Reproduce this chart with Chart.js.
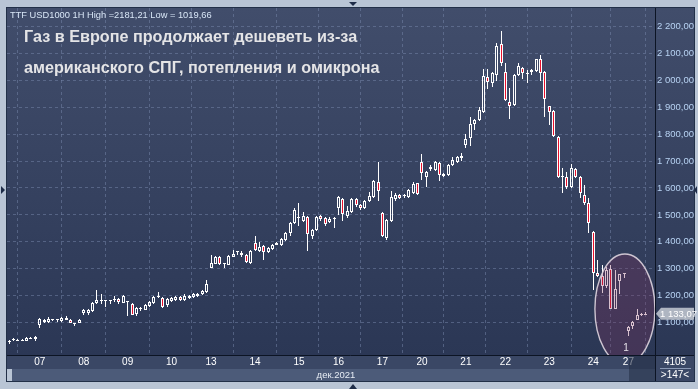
<!DOCTYPE html>
<html>
<head>
<meta charset="utf-8">
<script src="https://cdn.jsdelivr.net/npm/chart.js@4/dist/chart.umd.min.js"></script>
<style>
html,body{margin:0;padding:0;background:#b9c5d5;}
#wrap{position:relative;width:698px;height:389px;overflow:hidden;}
canvas{display:block;}
</style>
</head>
<body>
<div id="wrap"><canvas id="c" width="698" height="389"></canvas></div>
<script>
// ---- data (hourly candles, TTF USD1000, Dec 2021) ----
const openP = [1028,1035,1036,1034,1033,1044,1041,
1093,1111,1102,1112,1109,1105,1119,1111,1099,1100,
1135,1136,1142,1172,1183,1183,1182,1184,1188,1174,
1180,1170,1133,1151,1148,1163,1174,1196,1192,1165,
1180,1186,1197,1185,1192,1196,1200,1207,1214,
1304,1318,1344,1320,1315,1344,1361,1360,1352,1322,
1396,1367,1385,1363,1374,1390,1389,1407,1433,1470,
1492,1478,1492,1422,1444,1496,1489,1474,1490,
1526,1559,1496,1511,1559,1537,1526,1552,1567,1622,
1508,1415,1478,1560,1574,1569,1567,1581,1618,
1696,1641,1671,1667,1693,1652,1648,1685,1696,1713,
1759,1785,1837,1852,1881,2011,1989,2019,2133,
2030,1918,1907,2019,2044,2028,2030,2033,2078,2030,
1904,1885,1789,1643,1641,1605,1670,1641,1574,1544,
1437,1286,1274,1235,1300,1152,1253,1279,
1068,1089,1111,1131,1130];
const highP = [1037,1044,1040,1041,1046,1045,1052,
1118,1113,1122,1114,1114,1120,1126,1113,1100,1115,
1152,1152,1175,1222,1207,1185,1186,1200,1193,1202,
1182,1174,1160,1160,1170,1180,1198,1215,1196,1192,
1195,1198,1199,1207,1202,1209,1211,1221,1259,
1352,1346,1346,1322,1350,1370,1367,1366,1355,1370,
1422,1398,1389,1381,1393,1398,1413,1437,1474,1526,
1544,1511,1496,1448,1496,1500,1492,1493,1492,
1570,1563,1533,1563,1563,1541,1555,1585,1630,1696,
1510,1485,1589,1581,1578,1578,1596,1622,1620,
1726,1663,1685,1700,1696,1655,1689,1715,1719,1730,
1800,1863,1855,1900,2041,2041,2030,2137,2181,
2063,1970,2022,2063,2048,2037,2041,2080,2093,2033,
1906,1889,1793,1674,1659,1689,1674,1644,1611,1563,
1440,1333,1315,1307,1315,1296,1281,1285,
1086,1107,1150,1137,1140];
const lowP = [1020,1033,1031,1031,1031,1038,1033,
1081,1100,1100,1108,1104,1104,1110,1098,1089,1098,
1130,1128,1140,1170,1170,1160,1170,1175,1170,1172,
1126,1128,1126,1143,1146,1160,1170,1192,1155,1160,
1176,1182,1180,1180,1188,1192,1196,1204,1211,
1302,1316,1314,1304,1313,1342,1352,1345,1322,1319,
1367,1363,1333,1358,1370,1388,1385,1404,1422,1467,
1459,1474,1367,1411,1440,1478,1459,1470,1452,
1500,1478,1490,1508,1530,1519,1522,1548,1563,1552,
1418,1407,1474,1552,1559,1563,1563,1578,1574,
1630,1604,1663,1663,1626,1640,1644,1681,1692,1700,
1748,1756,1815,1848,1878,1967,1975,1996,2052,
1922,1856,1904,2015,2004,1989,2019,2030,1996,1863,
1833,1790,1637,1580,1596,1600,1637,1563,1537,1433,
1222,1270,1211,1230,1150,1150,1207,1267,
1049,1078,1109,1126,1129];
const closeP = [1033,1039,1033,1037,1044,1041,1045,
1115,1103,1115,1109,1112,1118,1111,1100,1096,1111,
1148,1146,1172,1183,1180,1180,1185,1188,1178,1200,
1177,1130,1155,1155,1166,1178,1196,1200,1160,1189,
1190,1194,1184,1200,1199,1206,1208,1218,1242,
1322,1344,1316,1316,1348,1356,1365,1350,1326,1367,
1370,1381,1363,1378,1389,1394,1411,1433,1470,1519,
1488,1496,1430,1444,1492,1485,1467,1485,1487,
1567,1504,1515,1559,1537,1526,1552,1570,1626,1589,
1420,1481,1567,1574,1563,1573,1593,1615,1578,
1656,1659,1676,1696,1648,1644,1685,1704,1715,1717,
1781,1837,1852,1889,2015,1993,2026,2126,2063,
1926,1904,2019,2052,2026,2024,2037,2078,2026,1930,
1881,1793,1641,1640,1605,1674,1641,1581,1545,1471,
1284,1274,1235,1296,1152,1226,1281,1283,
1084,1104,1130,1134,1133];

const dayLabels = ['07','08','09','10','13','14','15','16','17','20','21','22','23','24','27'];
const dayStartBar = [7,17,27,37,46,56,66,75,85,94,104,113,123,133,141];
const priceTicks = [1100,1200,1300,1400,1500,1600,1700,1800,1900,2000,2100,2200];
const lastPrice = 1133.07;
const headerText = 'TTF USD1000 1H High =2181,21 Low = 1019,66';
const titleLines = ['Газ в Европе продолжает дешеветь из-за','американского СПГ, потепления и омикрона'];
const monthText = 'дек.2021';
const cornerTop = '4105';
const cornerBottom = '>147<';
const circleMark = '1';

// ---- helpers ----
function fmt(v){
  const p = v.toFixed(2).split('.');
  return p[0].replace(/\B(?=(\d{3})+(?!\d))/g,' ') + ',' + p[1];
}
const idx = openP.map((_,i)=>i);
const FONT = "'Liberation Sans', Arial, sans-serif";
Chart.defaults.font.family = FONT;

const bodyData  = idx.map(i=>({x:i, y:[openP[i], closeP[i]]}));
const upperWick = idx.map(i=>({x:i, y:[Math.max(openP[i],closeP[i]), highP[i]]}));
const lowerWick = idx.map(i=>({x:i, y:[lowP[i], Math.min(openP[i],closeP[i])]}));

// snap bar elements computed by the scales to whole pixels (crisp candles)
const pixelSnap = {
  id:'pixelSnap',
  beforeDatasetsDraw(chart){
    chart.data.datasets.forEach((ds,di)=>{
      const meta = chart.getDatasetMeta(di);
      meta.data.forEach(el=>{
        el.x = Math.floor(el.x) + 0.5;
        const top = Math.round(Math.min(el.y, el.base));
        let bot = Math.round(Math.max(el.y, el.base));
        if (ds.label === 'body' && bot - top < 1) bot = top + 1;
        if (el.y <= el.base) { el.y = top; el.base = bot; } else { el.y = bot; el.base = top; }
      });
    });
  }
};

const frame = {
  id:'frame',
  beforeDraw(chart){
    const {ctx, chartArea:a} = chart;
    ctx.save();
    ctx.fillStyle = '#b9c5d5';
    ctx.fillRect(0,0,chart.width,chart.height);
    const g = ctx.createLinearGradient(0,a.top,0,a.bottom);
    g.addColorStop(0,'#414d6b'); g.addColorStop(1,'#2b3755');
    ctx.fillStyle = g;
    ctx.fillRect(a.left,a.top,694-a.left,a.bottom-a.top);
    ctx.fillStyle = '#3a4765';
    ctx.fillRect(a.left,a.bottom,694-a.left,14);
    ctx.fillStyle = '#4c5b79';
    ctx.fillRect(a.left+5,a.bottom+14,a.right-a.left-5,12);
    ctx.fillStyle = '#3a4765';
    ctx.fillRect(a.right,a.bottom,694-a.right,26);
    ctx.restore();
  },
  afterDatasetsDraw(chart){
    const {ctx, chartArea:a, scales:{x,y}} = chart;
    ctx.save();
    ctx.beginPath(); ctx.rect(a.left,a.top,a.right-a.left,a.bottom-a.top); ctx.clip();
    const cx = x.getPixelForValue(140.2), cy = y.getPixelForValue(1151);
    ctx.beginPath(); ctx.ellipse(cx,cy,30,55,0,0,Math.PI*2);
    ctx.fillStyle = 'rgba(125,50,92,0.3)'; ctx.fill();
    ctx.lineWidth = 1.4; ctx.strokeStyle = 'rgba(222,212,222,0.9)'; ctx.stroke();
    ctx.fillStyle = '#e8e4ea'; ctx.font = '10px '+FONT; ctx.textAlign='center'; ctx.textBaseline='middle';
    ctx.fillText(circleMark, cx+1, a.bottom-7);
    ctx.restore();
  },
  afterDraw(chart){
    const {ctx, chartArea:a, scales:{y}} = chart;
    ctx.save();
    ctx.fillStyle = 'rgba(35,45,70,0.55)';
    ctx.fillRect(629,a.bottom,a.right-629,26);
    ctx.strokeStyle = '#0c1424'; ctx.lineWidth = 1;
    ctx.beginPath();
    ctx.moveTo(a.right+0.5,a.top); ctx.lineTo(a.right+0.5,a.bottom+26);
    ctx.moveTo(a.left,a.bottom+0.5); ctx.lineTo(694,a.bottom+0.5);
    ctx.stroke();
    ctx.strokeStyle = '#223048';
    ctx.strokeRect(a.left-0.5,a.top-0.5,694-a.left+1,a.bottom+26-a.top+1);
    ctx.fillStyle = '#d8e6f6'; ctx.font = '9.3px '+FONT; ctx.textAlign='left'; ctx.textBaseline='middle';
    ctx.fillText(headerText, 10, 15);
    ctx.fillStyle = '#e4e4e6'; ctx.font = 'bold 16.2px '+FONT;
    ctx.fillText(titleLines[0], 24, 38);
    ctx.fillText(titleLines[1], 24, 69);
    ctx.fillStyle = '#e6ecf4'; ctx.font = '9.5px '+FONT; ctx.textAlign='center';
    ctx.fillText(monthText, 336, a.bottom+20);
    ctx.fillStyle = '#ffffff'; ctx.font = '10px '+FONT;
    ctx.fillText(cornerTop, 675, a.bottom+7);
    ctx.fillText(cornerBottom, 675, a.bottom+20);
    ctx.strokeStyle = '#8a98b4'; ctx.beginPath(); ctx.moveTo(660,a.bottom+13.5); ctx.lineTo(691,a.bottom+13.5); ctx.stroke();
    const py = y.getPixelForValue(lastPrice);
    ctx.fillStyle = '#aeb5c1';
    ctx.beginPath(); ctx.moveTo(656,py); ctx.lineTo(661,py-6); ctx.lineTo(694,py-6); ctx.lineTo(694,py+6); ctx.lineTo(661,py+6); ctx.closePath(); ctx.fill();
    ctx.fillStyle = '#ffffff'; ctx.font = '9.5px '+FONT; ctx.textAlign='left';
    ctx.fillText(fmt(lastPrice), 660, py+0.5);
    ctx.fillStyle = '#1e2c48';
    ctx.beginPath(); ctx.moveTo(349,2); ctx.lineTo(357,2); ctx.lineTo(353,6); ctx.closePath(); ctx.fill();
    ctx.beginPath(); ctx.moveTo(349,389); ctx.lineTo(357,389); ctx.lineTo(353,384); ctx.closePath(); ctx.fill();
    ctx.beginPath(); ctx.moveTo(1,186); ctx.lineTo(5,190); ctx.lineTo(1,194); ctx.closePath(); ctx.fill();
    ctx.beginPath(); ctx.moveTo(697,186); ctx.lineTo(694,190); ctx.lineTo(697,194); ctx.closePath(); ctx.fill();
    ctx.restore();
  }
};

const gridColor = 'rgba(120,136,172,0.5)';
new Chart(document.getElementById('c'), {
  type:'bar',
  data:{
    datasets:[
      {label:'upper', data:upperWick, backgroundColor:'#ffffff', borderWidth:0, barThickness:1, grouped:false, order:2, inflateAmount:0},
      {label:'lower', data:lowerWick, backgroundColor:'#ffffff', borderWidth:0, barThickness:1, grouped:false, order:2, inflateAmount:0},
      {label:'body', data:bodyData, grouped:false, order:1, barThickness:3, inflateAmount:0,
       borderWidth:1, borderSkipped:false, borderColor:'#ffffff',
       backgroundColor: ctx => { const i = ctx.dataIndex; return closeP[i] >= openP[i] ? 'rgba(0,0,0,0)' : '#e8102c'; }}
    ]
  },
  options:{
    responsive:false, animation:false, events:[],
    layout:{padding:{left:7, top:8, right:4, bottom:8}},
    plugins:{legend:{display:false}, tooltip:{enabled:false}, title:{display:false}},
    scales:{
      x:{type:'linear', position:'bottom', min:-0.46, max:147.05, offset:false,
        afterBuildTicks: s => { s.ticks = dayStartBar.map(v=>({value:v})); },
        afterFit: s => { s.height = 26; },
        ticks:{autoSkip:false, maxRotation:0, color:'#ffffff', padding:1, font:{size:10, family:FONT},
               callback:(v,i)=>dayLabels[i]},
        grid:{color:gridColor, lineWidth:1, drawTicks:false},
        border:{display:false, dash:[3,3]}
      },
      y:{type:'linear', position:'right', min:980, max:2268,
        afterBuildTicks: s => { s.ticks = priceTicks.map(v=>({value:v})); },
        afterFit: s => { s.width = 39; },
        ticks:{color:'#b8d3f3', padding:2, font:{size:9.5, family:FONT}, callback:v=>fmt(v)},
        grid:{color:gridColor, lineWidth:1, drawTicks:false},
        border:{display:false, dash:[3,3]}
      }
    }
  },
  plugins:[pixelSnap, frame]
});
</script>
</body>
</html>
